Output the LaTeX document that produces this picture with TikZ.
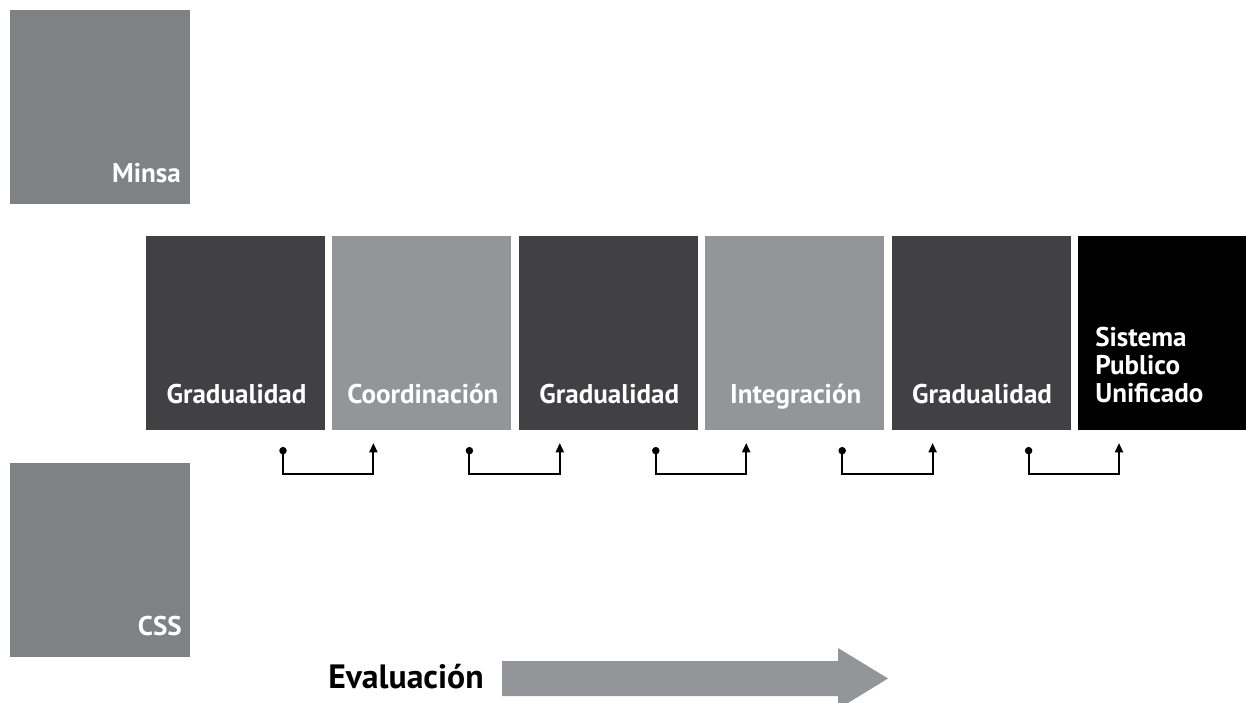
\documentclass[tikz,border=0pt]{standalone}
\usepackage{fontspec}
\setmainfont{PT Sans}
\usepackage{tikz}
\usetikzlibrary{positioning,calc,arrows.meta}

\definecolor{sidegray}{HTML}{808184}
\definecolor{stagelight}{HTML}{939598}
\definecolor{stagedark}{HTML}{414042}

\tikzset{
    stagebox/.style={rectangle, minimum width=134.25pt, minimum height=145.5pt, inner sep=0pt, outer sep=0pt},
    sidebox/.style={stagebox, fill=sidegray, minimum width=135pt},
    boxlabel/.style={text=white, font=\bfseries\fontsize{20.3}{21}\selectfont, inner sep=0pt, anchor=base},
    conn/.style={line width=1.5pt, {Circle[length=5.5pt]}-{Triangle[length=7pt,width=6pt]}}
}

\begin{document}
\begin{tikzpicture}[x=0.75pt,y=-0.75pt]
        \useasboundingbox (0,0) rectangle (1246,703);

        % Minsa y CSS
        \node[sidebox, anchor=north west] (minsa) at (10,10) {};
        \node[boxlabel, anchor=base east] (minsalbl) at ($(minsa.south east)+(-9,-22)$) {Minsa};
        \node[sidebox, anchor=north west] (css) at (10,463) {};
        \node[boxlabel, anchor=base east] (csslbl) at ($(css.south east)+(-8,-22)$) {CSS};

        % etapas
        \node[stagebox, fill=stagedark, anchor=north west] (s1) at (146,236) {};
        \node[stagebox, fill=stagelight, right=5.55pt of s1] (s2) {};
        \node[stagebox, fill=stagedark, right=5.55pt of s2] (s3) {};
        \node[stagebox, fill=stagelight, right=5.55pt of s3] (s4) {};
        \node[stagebox, fill=stagedark, right=5.55pt of s4] (s5) {};
        \node[stagebox, fill=black, right=5.55pt of s5] (s6) {};

        \node[boxlabel] (s1lbl) at ($(s1.south)+(1,-27)$) {Gradualidad};
        \node[boxlabel] (s2lbl) at ($(s2.south)+(1,-27)$) {Coordinación};
        \node[boxlabel] (s3lbl) at ($(s3.south)+(1,-27)$) {Gradualidad};
        \node[boxlabel] (s4lbl) at ($(s4.south)+(1,-27)$) {Integración};
        \node[boxlabel] (s5lbl) at ($(s5.south)+(1,-27)$) {Gradualidad};
        \node[boxlabel, anchor=south west, align=left] (s6lbl) at ($(s6.south west)+(17,-27)$) {Sistema\\Publico\\Unificado};

        % conectores
        \foreach \i/\j in {1/2,2/3,3/4,4/5,5/6} {
            \coordinate (from\i) at ($(s\i.south east)+(-42,17)$);
            \coordinate (to\i) at ($(s\j.south west)+(41,13)$);
            \draw[conn] (from\i) -- ++(0,27) -| (to\i);
        }

        % evaluacion
        \node[anchor=base west, inner sep=0pt, font=\bfseries\fontsize{25.3}{28}\selectfont] (eval) at (328,688) {Evaluación};
        \fill[stagelight] (502,661) -- (838,661) -- (838,648) -- (888,678.5) -- (838,709) -- (838,696) -- (502,696) -- cycle;
\end{tikzpicture}
\end{document}
